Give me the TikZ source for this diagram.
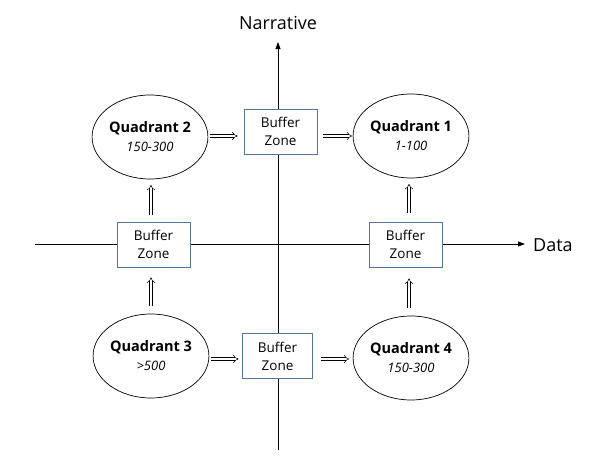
\documentclass[tikz,border=0pt]{standalone}
\usepackage{fontspec}
\setmainfont{Open Sans}
\usetikzlibrary{arrows.meta,shapes.geometric,calc}
\definecolor{boxblue}{RGB}{84,118,155}
\newcommand{\qlabel}[2]{{\fontsize{14.5}{16}\selectfont\bfseries #1}\\[7pt]{\fontsize{13}{14}\selectfont\itshape #2}}
\begin{document}
\begin{tikzpicture}[x=1pt,y=-1pt,
  quad/.style={draw=black, line width=0.7pt, ellipse, minimum width=111pt, minimum height=84pt, align=center, inner sep=0pt},
  buf/.style={draw=boxblue, line width=0.8pt, fill=white, minimum width=73pt, minimum height=45pt, align=center, inner sep=0pt, font=\fontsize{13.5}{18}\selectfont},
  axis/.style={draw=black, line width=0.8pt, -{Triangle[length=7pt,width=5pt]}},
  imp/.style={double, double distance=2.4pt, line width=0.5pt, -{Implies}},
  lbl/.style={font=\fontsize{18}{20}\selectfont, inner sep=0pt}
]
\useasboundingbox (0,0) rectangle (600,471);
\fill[white] (0,0) rectangle (600,471);
\coordinate (vbot) at (278,450);
\coordinate (vtop) at (278,42);
\coordinate (hl) at (35,244);
\coordinate (hr) at (525,244);
\draw[axis] (vbot) -- (vtop);
\draw[axis] (hl) -- (hr);
\node[lbl, anchor=base] (narr) at (278,30) {Narrative};
\node[lbl, anchor=base west] (data) at (533,251) {Data};

\node[quad] (q2) at (150,137) {\qlabel{Quadrant 2}{150-300}};
\node[quad] (q1) at (411,136) {\qlabel{Quadrant 1}{1-100}};
\node[quad] (q3) at (151,356) {\qlabel{Quadrant 3}{>500}};
\node[quad] (q4) at (411,358) {\qlabel{Quadrant 4}{150-300}};

\node[buf] (bt) at (280.5,131.5) {Buffer\\Zone};
\node[buf] (bl) at (153.5,244.5) {Buffer\\Zone};
\node[buf] (br) at (405.5,244.5) {Buffer\\Zone};
\node[buf, minimum width=70pt] (bb) at (277.5,356) {Buffer\\Zone};

\draw[imp] ($(q2.east)+(1.5,-1)$) -- ($(bt.west)+(-6,4.5)$);
\draw[imp] ($(bt.east)+(6,4.5)$) -- ($(q1.west)+(-0.5,0)$);
\draw[imp] ($(q3.east)+(1.5,3)$) -- ($(bb.west)+(-3.5,3)$);
\draw[imp] ($(bb.east)+(8,3)$) -- ($(q4.west)+(-3.5,1)$);
\draw[imp] ($(bl.north)+(-2.5,-7)$) -- ($(q2.south)+(1,5.5)$);
\draw[imp] ($(q3.north)+(0,-8)$) -- ($(bl.south)+(-2.5,10)$);
\draw[imp] ($(br.north)+(3.5,-9)$) -- ($(q1.south)+(-2,5.5)$);
\draw[imp] ($(q4.north)+(-2,-7.5)$) -- ($(br.south)+(3.5,11)$);
\end{tikzpicture}
\end{document}
